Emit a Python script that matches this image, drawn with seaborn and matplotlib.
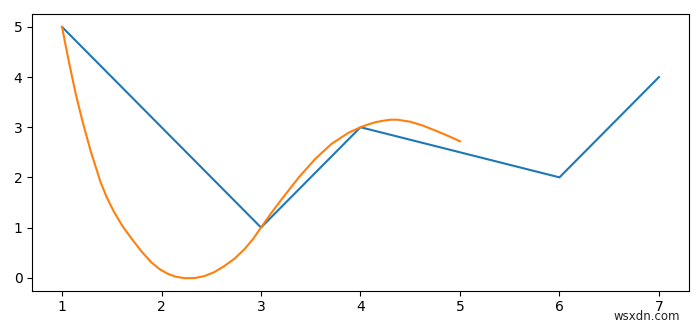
import matplotlib
matplotlib.use("Agg")
import matplotlib.pyplot as plt
import seaborn as sns
import pandas as pd

# Blue polyline
line_x = [1, 3, 4, 6, 7]
line_y = [5, 1, 3, 2, 4]

# Orange smooth curve
curve_x = [1.0, 1.04, 1.079, 1.137, 1.204, 1.287, 1.388, 1.45, 1.52, 1.61, 1.706,
           1.80, 1.895, 1.98, 2.06, 2.14, 2.23, 2.33, 2.43, 2.53, 2.63, 2.735,
           2.835, 2.92, 3.0, 3.1, 3.21, 3.38, 3.546, 3.71, 3.88, 4.0, 4.07, 4.15,
           4.23, 4.3, 4.37, 4.5, 4.63, 4.77, 4.9, 5.0]
curve_y = [5.0, 4.59, 4.21, 3.67, 3.13, 2.53, 1.90, 1.60, 1.32, 1.02, 0.76,
           0.52, 0.31, 0.17, 0.08, 0.02, -0.01, -0.01, 0.03, 0.11, 0.23, 0.38,
           0.57, 0.77, 1.0, 1.28, 1.57, 2.0, 2.37, 2.67, 2.89, 3.0, 3.05, 3.10,
           3.13, 3.15, 3.15, 3.11, 3.03, 2.92, 2.81, 2.72]

df_line = pd.DataFrame({"x": line_x, "y": line_y})
df_curve = pd.DataFrame({"x": curve_x, "y": curve_y})

fig = plt.figure(figsize=(7.0, 3.27), dpi=100)
ax = fig.add_axes([0.046, 0.111, 0.938, 0.845])

sns.lineplot(data=df_line, x="x", y="y", sort=False, color="#1f77b4", linewidth=1.5, ax=ax)
sns.lineplot(data=df_curve, x="x", y="y", sort=False, color="#ff7f0e", linewidth=1.5, ax=ax)

ax.set_xlabel("")
ax.set_ylabel("")
ax.set_xticks([1, 2, 3, 4, 5, 6, 7])
ax.set_yticks([0, 1, 2, 3, 4, 5])
ax.tick_params(labelsize=10)

fig.text(0.971, 0.012, "wsxdn.com", ha="right", va="bottom", fontsize=8.5, color="#222222")

fig.savefig("out.png", dpi=100)
